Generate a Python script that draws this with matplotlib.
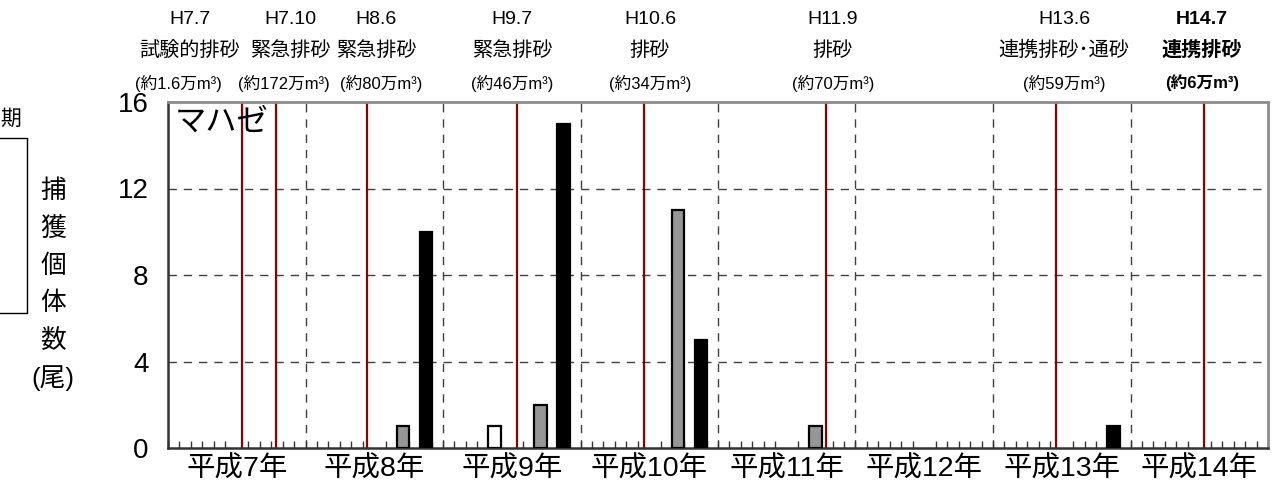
import matplotlib
matplotlib.use('Agg')
import matplotlib.pyplot as plt
from matplotlib.lines import Line2D

plt.rcParams['font.family'] = ['Liberation Sans', 'Noto Sans CJK JP', 'DejaVu Sans']

# data
years = ['平成7年', '平成8年', '平成9年', '平成10年', '平成11年', '平成12年', '平成13年', '平成14年']
may_counts = [0, 0, 1, 0, 0, 0, 0, 0]
sep_counts = [0, 1, 2, 11, 1, 0, 0, 0]
nov_counts = [0, 10, 15, 5, 0, 0, 1, 0]
survey_month = {'may': 5, 'sep': 9, 'nov': 11}

event_dates = ['H7.7', 'H7.10', 'H8.6', 'H9.7', 'H10.6', 'H11.9', 'H13.6', 'H14.7']
event_types = ['試験的排砂', '緊急排砂', '緊急排砂', '緊急排砂', '排砂', '排砂', '連携排砂･通砂', '連携排砂']
event_volumes = ['約1.6万', '約172万', '約80万', '約46万', '約34万', '約70万', '約59万', '約6万']
# position of event lines, months from start of H7
event_pos = [6.45, 9.45, 17.4, 30.45, 41.5, 57.4, 77.5, 90.45]

W, H = 1280, 491
fig = plt.figure(figsize=(W / 100, H / 100), dpi=100)
ax = fig.add_axes([168 / W, 1 - 448 / H, 1100 / W, 346 / H])

# bars
bw = 1.1
for counts, key, fc in [(may_counts, 'may', 'white'), (sep_counts, 'sep', '#969696'), (nov_counts, 'nov', 'black')]:
    xs = [i * 12 + survey_month[key] - 0.5 for i, c in enumerate(counts) if c > 0]
    hs = [c for c in counts if c > 0]
    ax.bar(xs, hs, width=bw, color=fc, edgecolor='black', linewidth=1.6, zorder=3)

# event lines
for p in event_pos:
    ax.axvline(p, color='#8b0000', linewidth=1.6, zorder=2)

# grid
for yv in [4, 8, 12]:
    ax.axhline(yv, color='#404040', linewidth=1, dashes=(6, 5), zorder=1)
for i in range(1, len(years)):
    ax.axvline(i * 12, color='#404040', linewidth=1, dashes=(6, 5), zorder=1)

ax.set_xlim(0, 12 * len(years))
ax.set_ylim(0, 16)
ax.set_yticks([0, 4, 8, 12, 16])
ax.tick_params(axis='y', length=0, pad=14, labelsize=20)
ax.set_xticks([i * 12 + 6 for i in range(len(years))])
ax.set_xticklabels(years)
ax.set_xticks(range(0, 12 * len(years) + 1), minor=True)
ax.tick_params(axis='x', which='major', length=0, pad=6, labelsize=20.5)
ax.tick_params(axis='x', which='minor', direction='in', length=5, width=1, color='#333333')

for s in ['top', 'right']:
    ax.spines[s].set_color('#8c8c8c')
    ax.spines[s].set_linewidth(2)
for s in ['left', 'bottom']:
    ax.spines[s].set_color('#333333')
    ax.spines[s].set_linewidth(1.8)

ax.text(0.006, 0.985, 'マハゼ', transform=ax.transAxes, fontsize=22.5, ha='left', va='top', zorder=4)

# header annotations (centres in pixels)
hx = [190, 290, 376, 512, 650, 833, 1064, 1202]
hx3 = [178, 284, 381, 512, 650, 833, 1064, 1202]
for i in range(len(event_dates)):
    bold = 'bold' if i == len(event_dates) - 1 else 'normal'
    fig.text(hx[i] / W, 1 - 19 / H, event_dates[i], ha='center', va='center', fontsize=14, fontweight=bold)
    fig.text(hx[i] / W, 1 - 50 / H, event_types[i], ha='center', va='center', fontsize=14.5, fontweight=bold)
    fig.text(hx3[i] / W, 1 - 83 / H, '(' + event_volumes[i] + 'm³)', ha='center', va='center',
             fontsize=12, fontweight=bold)

# y label, stacked characters
ylab = ['捕', '獲', '個', '体', '数', '(尾)']
for k, ch in enumerate(ylab):
    fig.text(53 / W, 1 - (191 + k * 37.5) / H, ch, ha='center', va='center', fontsize=18.5)

# cut-off legend fragment at the left edge
fig.text(0, 1 - 119 / H, '期', ha='left', va='center', fontsize=15)
fig.add_artist(Line2D([0, 27 / W, 27 / W, 0], [1 - 138 / H, 1 - 138 / H, 1 - 313 / H, 1 - 313 / H],
                      color='black', linewidth=1))

fig.savefig('out.png', dpi=100)
